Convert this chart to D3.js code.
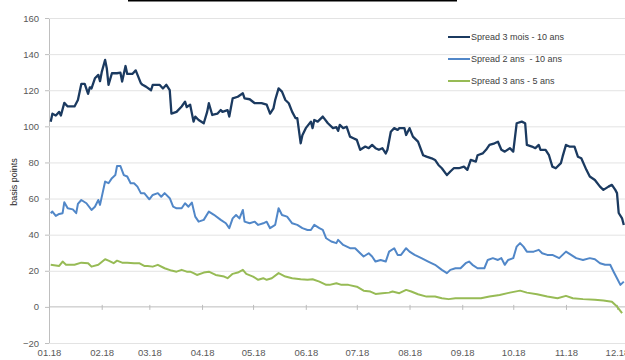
<!DOCTYPE html>
<html>
<head>
<meta charset="utf-8">
<script src="https://cdn.jsdelivr.net/npm/d3@7/dist/d3.min.js"></script>
<style>
  html, body { margin: 0; padding: 0; background: #fff; }
  svg { display: block; }
  text { font-family: "Liberation Sans", Arial, sans-serif; }
</style>
</head>
<body>
<svg id="chart" width="625" height="360"></svg>
<script>
// Daily spreads of the yield curve, 2018 (basis points)
const series3m10yDates = ["01-02","01-03","01-05","01-07","01-08","01-10","01-12","01-16","01-18","01-20","01-22","01-24","01-25","01-26","01-28","01-30","01-31",
  "02-01","02-03","02-04","02-05","02-07","02-10","02-12","02-13","02-15","02-16","02-19","02-21","02-24","02-25","02-27",
  "03-02","03-03","03-07","03-09","03-11","03-13","03-14","03-17","03-20","03-22","03-23","03-25","03-27","03-28","03-30",
  "04-02","04-04","04-05","04-07","04-10","04-12","04-13","04-16","04-17","04-19","04-22","04-25","04-26","04-29",
  "05-02","05-06","05-09","05-11","05-13","05-14","05-16","05-18","05-20","05-22","05-24","05-26","05-27","05-29","05-30",
  "06-01","06-04","06-05","06-06","06-08","06-11","06-14","06-17","06-19","06-20","06-21","06-23","06-25","06-27","06-29",
  "07-01","07-03","07-06","07-08","07-10","07-12","07-14","07-16","07-18","07-19","07-21","07-23","07-25","07-26","07-29","07-30",
  "08-01","08-03","08-06","08-09","08-11","08-14","08-16","08-18","08-20","08-23","08-25","08-27","08-30",
  "09-02","09-04","09-06","09-09","09-10","09-13","09-15","09-17","09-20","09-22","09-24","09-26","09-29",
  "10-01","10-03","10-06","10-08","10-09","10-12","10-14","10-16","10-17","10-20","10-22","10-24","10-26","10-29","10-30",
  "11-01","11-03","11-06","11-08","11-10","11-13","11-15","11-18","11-21","11-23","11-26","11-28","11-30",
  "12-01","12-02","12-04","12-05"];
const series3m10yValues = [102.6,107,106,108,106,113,111,111,114.6,123.5,123.5,118,121.6,121,126.6,128.5,125,
  130,136.8,132,123,129.4,129.4,129.7,124.8,133.4,129,129,131,123.9,123,122,
  120,123,123,121,123,120,107,108,111,113.7,110.6,112,102.6,105.4,103.5,
  101.7,108,112.8,106.3,107,109,108,109,105.4,115.5,116.4,118.3,115.5,115,
  112.8,112.8,112,107,110,114.6,121,119.2,114.6,112.8,108,104.5,104.5,90.6,95,
  99,102.6,99,103.5,102.6,105.4,101.7,99,99.5,97.5,100.8,99,99.8,94.3,93.4,
  92.5,87,88.8,87.9,89.7,87.9,87,87.9,85,87,97,99,98,99,99,95.2,
  99,94.3,91.5,84,83.2,82.3,81.4,78.6,76.8,73,75,76.8,76.8,
  77.7,75.9,81.4,80.5,84,85,87,89.7,90.6,91.5,87,86,87.9,
  86,101.7,102.6,101.7,89.7,88.8,87.9,89.7,87,87,84,77.7,76.8,79.6,83.2,
  89.7,88.8,88.8,83.2,82.3,75.9,72.2,70.3,66.6,64.8,66.6,67.6,64.8,
  63,52,49,45.4];

const series2y10yDates = ["01-02","01-03","01-05","01-07","01-09","01-10","01-12","01-15","01-17","01-18","01-20","01-23","01-26","01-28","01-30","01-31",
  "02-03","02-05","02-07","02-09","02-10","02-12","02-14","02-16","02-18","02-20","02-22","02-24","02-26",
  "03-01","03-03","03-06","03-08","03-10","03-13","03-15","03-17","03-20","03-22","03-24","03-26","03-28","03-30",
  "04-02","04-05","04-08","04-12","04-15","04-17","04-19","04-21","04-23","04-25","04-26","04-29",
  "05-02","05-04","05-07","05-09","05-11","05-14","05-16","05-18","05-21","05-24","05-27","05-30",
  "06-02","06-04","06-06","06-09","06-11","06-13","06-16","06-19","06-20","06-23","06-27","06-30",
  "07-03","07-05","07-08","07-10","07-12","07-15","07-18","07-20","07-23","07-25","07-27","07-30",
  "08-01","08-04","08-08","08-12","08-16","08-20","08-23","08-25","08-28","08-31",
  "09-03","09-05","09-07","09-10","09-12","09-14","09-16","09-19","09-22","09-24","09-26","09-28",
  "10-01","10-03","10-05","10-07","10-09","10-13","10-16","10-18","10-21","10-24","10-28","10-30",
  "11-01","11-04","11-07","11-11","11-15","11-18","11-21","11-24","11-27","11-29",
  "12-01","12-03","12-05"];
const series2y10yValues = [51.9,52.8,50.4,51.5,51.9,58,54.6,54,51.9,57,59.2,57.4,53.7,55.5,59.2,56.5,
  69.4,68.5,71.3,73,78,78,73,72.2,68.5,68.5,66.6,63,63,
  59.6,62,63,61,63,60.2,55.5,54.6,54.6,57.4,55.5,57.8,50,47.2,
  48.2,52.8,51,48.2,46.3,43.6,49,50.9,49,53.7,47.2,46.3,
  47.2,45.4,46.3,47.2,43.6,45.4,54.6,50.9,50,46.3,45.4,43.6,
  42.6,42.6,45.4,43.6,42.6,38,36.2,35.3,37.1,34.3,32.5,32.5,
  29.7,27.9,29.7,27.9,25.1,26,25.1,30.6,32.5,28.8,28.8,32.5,
  30.6,28.8,27,25.1,23.3,20.5,18.7,20.5,21.4,21.4,
  24.2,25.1,23.3,21.4,21.4,21.4,26,27,26,27,23.3,26,
  27,33.4,35.3,33.4,30.6,30.6,31.6,29.7,28.8,28.8,27,28.8,
  30.6,28.8,27,26,27,26.4,24.2,23.3,23.3,19.5,
  15.9,12.2,14];

const series3y5yDates = ["01-02","01-07","01-09","01-11","01-16","01-20","01-24","01-26","01-30",
  "02-03","02-05","02-08","02-10","02-13","02-16","02-20","02-23","02-26","02-28",
  "03-03","03-06","03-10","03-14","03-17","03-20","03-23","03-25","03-27","03-29",
  "04-02","04-05","04-09","04-14","04-16","04-19","04-22","04-25","04-27",
  "05-01","05-04","05-07","05-09","05-12","05-16","05-20","05-24","05-29",
  "06-02","06-05","06-09","06-13","06-15","06-19","06-22","06-26",
  "07-01","07-05","07-09","07-12","07-16","07-20","07-22","07-26","07-30",
  "08-02","08-06","08-11","08-16","08-20","08-24","08-28",
  "09-01","09-07","09-12","09-17","09-23","09-29",
  "10-05","10-09","10-15","10-21","10-27",
  "11-01","11-05","11-11","11-18","11-23","11-28",
  "12-01","12-04"];
const series3y5yValues = [23.3,22.7,25.1,23.3,23.3,24.5,24.2,22.3,23.3,
  26.4,25.6,24.2,25.6,24.5,24.5,24.2,24.2,22.7,22.7,
  22.3,23.3,21.4,20.1,19.5,20.5,19.5,19.5,18.7,17.7,
  19,19.5,17.7,16.8,15.9,18.3,19,20.5,18.3,
  16.8,15,15.9,15,15.9,18.7,16.8,15.9,15.3,
  15,15.3,14,12.2,12.2,13.1,12.2,12.2,
  11.2,9,8.5,7.2,7.6,7.9,8.5,7.6,9.4,
  8.5,7,5.7,5.7,4.8,4.3,4.8,
  4.8,4.8,4.8,5.7,6.6,7.9,
  9,7.9,7,5.7,4.8,
  6.1,4.8,4.3,3.9,3.5,2.9,
  0.2,-3.5];

const seriesNames = ["Spread 3 mois - 10 ans", "Spread 2 ans  - 10 ans", "Spread 3 ans - 5 ans"];
const seriesColors = ["#1b3a60", "#5187c8", "#97bb55"];
const yTicks = [-20, 0, 20, 40, 60, 80, 100, 120, 140, 160];
const xTickMonths = ["2018-01-01","2018-02-01","2018-03-01","2018-04-01","2018-05-01","2018-06-01",
  "2018-07-01","2018-08-01","2018-09-01","2018-10-01","2018-11-01","2018-12-01"];

const parseDay = d3.timeParse("%Y-%m-%d");
const toPoints = (dates, values) => dates.map((d, i) => ({ date: parseDay("2018-" + d), value: values[i] }));
const allSeries = [
  toPoints(series3m10yDates, series3m10yValues),
  toPoints(series2y10yDates, series2y10yValues),
  toPoints(series3y5yDates, series3y5yValues)
];

const svg = d3.select("#chart");

const x = d3.scaleTime()
  .domain([parseDay("2018-01-01"), parseDay("2018-12-01")])
  .range([49, 617]);
const y = d3.scaleLinear().domain([-20, 160]).range([343, 18]);

// Horizontal gridlines with short outer ticks
const yAxis = svg.append("g")
  .attr("transform", "translate(49,0)")
  .call(d3.axisLeft(y).tickValues(yTicks).tickSize(4).tickPadding(6).tickFormat(d3.format("d")));
yAxis.select(".domain").attr("stroke", "#bfbfbf");
yAxis.selectAll(".tick line").attr("stroke", "#bfbfbf");
yAxis.selectAll(".tick text").attr("fill", "#595959").style("font-size", "9.5px");
yAxis.selectAll(".tick").filter(d => d !== 0).append("line")
  .attr("x1", 0).attr("x2", 576).attr("stroke", "#e3e3e3").attr("stroke-width", 1);

// Zero baseline carrying the month ticks; labels sit under the plot
const xAxis = svg.append("g")
  .attr("transform", `translate(0,${y(0)})`)
  .call(d3.axisBottom(x)
    .tickValues(xTickMonths.map(parseDay))
    .tickSize(3)
    .tickFormat(d3.timeFormat("%m.%y")));
xAxis.select(".domain").attr("d", `M49,0H625`).attr("stroke", "#bcbcbc");
xAxis.selectAll(".tick line").attr("stroke", "#bcbcbc").attr("y1", -2);
xAxis.selectAll(".tick text")
  .attr("y", y(-20) - y(0) + 6)
  .attr("dy", "0.71em")
  .attr("fill", "#595959")
  .style("font-size", "9.5px");

// Axis title
svg.append("text")
  .attr("transform", "translate(17,182) rotate(-90)")
  .attr("text-anchor", "middle")
  .attr("fill", "#262626")
  .style("font-size", "9px")
  .text("basis points");

// Rule under the heading at the top edge
svg.append("line")
  .attr("x1", 128).attr("x2", 457).attr("y1", 0.5).attr("y2", 0.5)
  .attr("stroke", "#000").attr("stroke-width", 2);

// Series lines
const line = d3.line().x(d => x(d.date)).y(d => y(d.value));
svg.append("g").selectAll("path")
  .data(allSeries)
  .join("path")
  .attr("d", line)
  .attr("fill", "none")
  .attr("stroke", (d, i) => seriesColors[i])
  .attr("stroke-width", (d, i) => i === 0 ? 2.3 : 2)
  .attr("stroke-linejoin", "round");

// Legend
const legend = svg.append("g").attr("transform", "translate(448,37)");
const items = legend.selectAll("g").data(seriesNames).join("g")
  .attr("transform", (d, i) => `translate(0,${i * 22})`);
items.append("line")
  .attr("x1", 0).attr("x2", 22)
  .attr("stroke", (d, i) => seriesColors[i]).attr("stroke-width", 2);
items.append("text")
  .attr("x", 23).attr("dy", "0.35em")
  .attr("fill", "#404040")
  .style("font-size", "9px")
  .style("white-space", "pre")
  .text(d => d);
</script>
</body>
</html>
